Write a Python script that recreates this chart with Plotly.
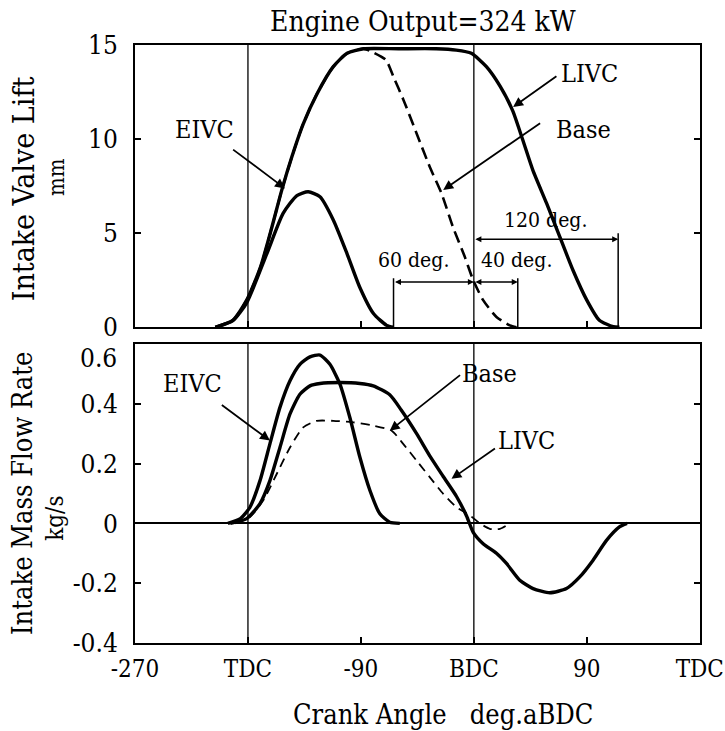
import plotly.graph_objects as go

# ---------------- data (crank angle in deg aBDC) ----------------
# Top panel: intake valve lift (mm)
lift_livc_x = [-206, -192, -181, -170, -161, -153, -145, -136, -125, -112, -101, -88, -60, -30, -14, -2, 10, 21, 31, 39, 47, 58, 68.5, 79, 90, 100, 111, 116]
lift_livc_y = [0, 0.37, 1.44, 3.2, 5.3, 7.3, 9.06, 10.8, 12.4, 13.85, 14.56, 14.8, 14.8, 14.8, 14.73, 14.56, 13.85, 12.8, 11.5, 9.95, 8.35, 6.58, 4.8, 3.03, 1.44, 0.37, 0.03, 0]

lift_base_x = [-206, -192, -181, -170, -161, -153, -145, -136, -125, -112, -101, -88, -80, -70, -64, -56, -45.6, -35, -25.7, -16.5, -7.2, -0.5, 7.4, 18, 28.7, 34]
lift_base_y = [0, 0.37, 1.44, 3.2, 5.3, 7.3, 9.06, 10.8, 12.4, 13.85, 14.56, 14.8, 14.6, 14.2, 13.3, 12.07, 10.3, 8.5, 7.1, 5.3, 3.74, 2.5, 1.44, 0.55, 0.1, 0]

lift_eivc_x = [-206, -192, -181, -165, -152, -141, -132, -122.6, -112, -101, -91, -80, -69.5, -64]
lift_eivc_y = [0, 0.35, 1.3, 3.9, 6.05, 7.0, 7.2, 6.93, 5.7, 3.9, 2.14, 0.73, 0.1, 0]

# Bottom panel: intake mass flow rate (kg/s)
flow_eivc_x = [-196, -186, -178.4, -170.4, -162.5, -154.5, -146.5, -138.6, -130.6, -122.6, -114.7, -106.7, -98.8, -90.8, -82.8, -74.9, -67, -59]
flow_eivc_y = [0, 0.016, 0.054, 0.143, 0.266, 0.388, 0.477, 0.532, 0.557, 0.563, 0.532, 0.466, 0.354, 0.221, 0.11, 0.032, 0.004, 0]

flow_livc_x = [-194, -181, -170.4, -162.5, -154.5, -146.5, -138.6, -130.6, -122.6, -106.7, -90.8, -80.2, -67, -58, -45.6, -35, -24.4, -13.8, -5.8, -0.5, 7.4, 18, 26, 36.6, 47.2, 60.5, 73.8, 84.4, 95, 105.7, 116, 122]
flow_livc_y = [0, 0.016, 0.066, 0.143, 0.254, 0.366, 0.432, 0.46, 0.468, 0.471, 0.468, 0.46, 0.43, 0.38, 0.3, 0.225, 0.157, 0.09, 0.025, -0.03, -0.068, -0.1, -0.134, -0.19, -0.218, -0.232, -0.218, -0.179, -0.123, -0.057, -0.012, 0]

flow_base_x = [-190, -178.4, -167.8, -157, -146.5, -136, -125.3, -112, -96, -80, -65.5, -56.3, -45.6, -35, -24.4, -13.8, -3.2, 4.8, 12.7, 20.7, 28.7]
flow_base_y = [0, 0.021, 0.077, 0.166, 0.254, 0.321, 0.343, 0.343, 0.338, 0.327, 0.31, 0.266, 0.21, 0.154, 0.099, 0.054, 0.027, 0, -0.018, -0.018, 0]

# axes
x_tickvals = [-270, -180, -90, 0, 90, 180]
x_ticktext = ["-270", "TDC", "-90", "BDC", "90", "TDC"]
lift_tickvals = [0, 5, 10, 15]
lift_ticktext = ["0", "5", "10", "15"]
flow_tickvals = [-0.4, -0.2, 0, 0.2, 0.4, 0.6]
flow_ticktext = ["-0.4", "-0.2", "0", "0.2", "0.4", ""]
flow_top_label = "0.6"   # drawn a little below its tick, as in the original
ref_lines = [-180, 0]  # TDC, BDC

# valve-closing dimension markers (deg) and labels
close_labels = ["60 deg.", "40 deg.", "120 deg."]
eivc_close, base_close, livc_close = -64, 35, 115

FONT = "DejaVu Serif Condensed, DejaVu Serif, serif"
BLACK = "black"

fig = go.Figure()

# top panel
fig.add_trace(go.Scatter(x=lift_base_x, y=lift_base_y, mode="lines", xaxis="x", yaxis="y",
                         line=dict(color=BLACK, width=2.6, dash="12px,6px", shape="spline", smoothing=0.6)))
fig.add_trace(go.Scatter(x=lift_livc_x, y=lift_livc_y, mode="lines", xaxis="x", yaxis="y",
                         line=dict(color=BLACK, width=3.4, shape="spline", smoothing=0.6)))
fig.add_trace(go.Scatter(x=lift_eivc_x, y=lift_eivc_y, mode="lines", xaxis="x", yaxis="y",
                         line=dict(color=BLACK, width=3.4, shape="spline", smoothing=0.6)))
# bottom panel
fig.add_trace(go.Scatter(x=flow_base_x, y=flow_base_y, mode="lines", xaxis="x2", yaxis="y2",
                         line=dict(color=BLACK, width=1.8, dash="9px,6px", shape="spline", smoothing=0.6)))
fig.add_trace(go.Scatter(x=flow_livc_x, y=flow_livc_y, mode="lines", xaxis="x2", yaxis="y2",
                         line=dict(color=BLACK, width=3.4, shape="spline", smoothing=0.6)))
fig.add_trace(go.Scatter(x=flow_eivc_x, y=flow_eivc_y, mode="lines", xaxis="x2", yaxis="y2",
                         line=dict(color=BLACK, width=3.4, shape="spline", smoothing=0.6)))

shapes = []
for xr, yr in (("x", "y"), ("x2", "y2")):
    for v in ref_lines:
        shapes.append(dict(type="line", xref=xr, yref=yr + " domain", x0=v, x1=v, y0=0, y1=1,
                           line=dict(color=BLACK, width=1.3), layer="below"))
# dimension extension lines in top panel
for v, h in ((eivc_close, 2.6), (base_close, 2.6), (livc_close, 5.0)):
    shapes.append(dict(type="line", xref="x", yref="y", x0=v, x1=v, y0=0, y1=h,
                       line=dict(color=BLACK, width=1.5)))

ann = []
def label(text, x, y, xr, yr, size=25, angle=0, xanchor="center", yshift=0, xshift=0):
    ann.append(dict(text=text, x=x, y=y, xref=xr, yref=yr, showarrow=False, textangle=angle,
                    font=dict(family=FONT, size=size, color=BLACK), xanchor=xanchor, yanchor="middle",
                    yshift=yshift, xshift=xshift))

def arrow(x, y, ax, ay, xr, yr, both=False, head=2, size=1.1, width=1.8):
    ann.append(dict(text="", x=x, y=y, ax=ax, ay=ay, xref=xr, yref=yr, axref=xr, ayref=yr,
                    showarrow=True, arrowhead=head, arrowsize=size, arrowwidth=width,
                    arrowcolor=BLACK, arrowside="end+start" if both else "end",
                    startarrowhead=head, startarrowsize=size))

# top panel labels
label("EIVC", -215, 10.5, "x", "y")
arrow(-150.5, 7.38, -193, 9.5, "x", "y")
label("LIVC", 92, 13.5, "x", "y")
arrow(31.3, 11.7, 67, 13.4, "x", "y")
label("Base", 87, 10.5, "x", "y")
arrow(-24.4, 7.3, 54, 10.9, "x", "y")
label(close_labels[0], -48, 3.56, "x", "y", 21)
label(close_labels[1], 34, 3.56, "x", "y", 21)
label(close_labels[2], 57, 5.7, "x", "y", 21)
arrow(0, 2.41, eivc_close, 2.41, "x", "y", both=True, size=0.8, width=1.5)
arrow(base_close, 2.41, 0, 2.41, "x", "y", both=True, size=0.8, width=1.5)
arrow(livc_close, 4.68, 0, 4.68, "x", "y", both=True, size=0.8, width=1.5)

# bottom panel labels
label("EIVC", -224, 0.467, "x2", "y2")
arrow(-162.5, 0.277, -202, 0.4, "x2", "y2")
label("Base", 12.7, 0.5, "x2", "y2")
arrow(-67, 0.31, -9.8, 0.5, "x2", "y2")
label("LIVC", 42, 0.277, "x2", "y2")
arrow(-17.8, 0.149, 18, 0.254, "x2", "y2")
# the "0.6" tick label, set slightly below the top of the frame
label(flow_top_label, 0, flow_tickvals[-1], "paper", "y2", 26, xanchor="right", xshift=-16, yshift=-14)

# titles (paper coordinates)
ann.append(dict(text="Engine Output=324 kW", x=0.51, y=1, xref="paper", yref="paper",
                xanchor="center", yanchor="bottom", yshift=5, showarrow=False,
                font=dict(family=FONT, size=28, color=BLACK)))
label("Crank Angle   deg.aBDC", 0.545, -0.119, "paper", "paper", 27)
label("Intake Valve Lift", -0.198, 0.759, "paper", "paper", 30, -90)
label("mm", -0.14, 0.779, "paper", "paper", 22, -90)
label("Intake Mass Flow Rate", -0.198, 0.251, "paper", "paper", 27, -90)
label("kg/s", -0.142, 0.209, "paper", "paper", 24, -90)

axis_common = dict(showgrid=False, showline=True, linecolor=BLACK, linewidth=2, mirror=True,
                   ticks="inside", ticklen=6, tickcolor=BLACK, tickwidth=1.5, automargin=False,
                   tickfont=dict(family=FONT, size=26, color=BLACK), zeroline=False)

fig.update_layout(
    width=725, height=731,
    margin=dict(l=135, r=25, t=45, b=88, autoexpand=False),
    paper_bgcolor="white", plot_bgcolor="white",
    showlegend=False,
    xaxis=dict(axis_common, domain=[0, 1], anchor="y", range=[-270, 180.2],
               tickvals=x_tickvals, ticktext=x_ticktext, showticklabels=False),
    yaxis=dict(axis_common, domain=[0.528, 1], anchor="x", range=[0, 15],
               tickvals=lift_tickvals, ticktext=lift_ticktext, ticklabelstandoff=10),
    xaxis2=dict(axis_common, domain=[0, 1], anchor="y2", range=[-270, 180.2],
                tickvals=x_tickvals, ticktext=x_ticktext, ticklabeloverflow="allow",
                ticklabelstandoff=3,
                tickfont=dict(family=FONT, size=24, color=BLACK)),
    yaxis2=dict(axis_common, domain=[0, 0.5], anchor="x2", range=[-0.4, 0.6],
                tickvals=flow_tickvals, ticktext=flow_ticktext, ticklabelstandoff=10,
                zeroline=True, zerolinecolor=BLACK, zerolinewidth=2),
    shapes=shapes,
    annotations=ann,
)
fig.update_yaxes(mirror="ticks")

fig.write_html("out.html")
